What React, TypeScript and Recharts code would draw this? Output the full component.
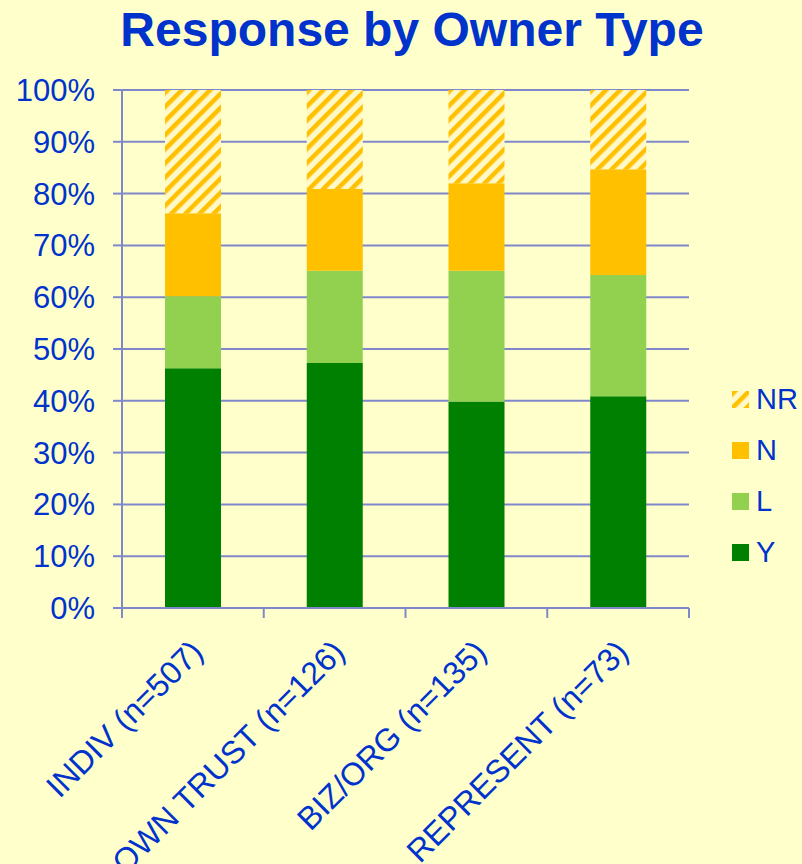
import { BarChart, Bar, XAxis, YAxis, CartesianGrid, Legend } from "recharts";

const categories = ["INDIV (n=507)", "OWN TRUST (n=126)", "BIZ/ORG (n=135)", "REPRESENT (n=73)"];
const yesPct = [46.3, 47.3, 39.8, 40.9];
const likelyPct = [13.9, 17.8, 25.3, 23.4];
const noPct = [16.0, 15.8, 16.9, 20.4];
const noResponsePct = [23.8, 19.1, 18.0, 15.3];
const yTicks = [0, 10, 20, 30, 40, 50, 60, 70, 80, 90, 100];

const data = categories.map((name, i) => ({
  name,
  Y: yesPct[i],
  L: likelyPct[i],
  N: noPct[i],
  NR: noResponsePct[i],
}));

const BG = "#FFFFCC";
const BLUE = "#0033CC";
const AXIS = "#8088CC";
const FONT = "'Liberation Sans', Arial, sans-serif";

const series = [
  { key: "Y", fill: "#008000" },
  { key: "L", fill: "#92D050" },
  { key: "N", fill: "#FFC000" },
  { key: "NR", fill: "url(#nrHatch)" },
];

function HatchDefs({ id }: { id: string }) {
  return (
    <defs>
      <pattern id={id} patternUnits="userSpaceOnUse" width="10" height="10" patternTransform="rotate(45)">
        <rect width="10" height="10" fill="#FFF8C8" />
        <rect width="4.5" height="10" fill="#FFC000" />
      </pattern>
    </defs>
  );
}

function CategoryTick(props: any) {
  const { x, y, payload, index, visibleTicksCount, width } = props;
  const band = width / visibleTicksCount;
  const left = x - band / 2;
  return (
    <g>
      <line x1={left} y1={y} x2={left} y2={y + 10} stroke={AXIS} strokeWidth={2} />
      {index === visibleTicksCount - 1 && (
        <line x1={x + band / 2} y1={y} x2={x + band / 2} y2={y + 10} stroke={AXIS} strokeWidth={2} />
      )}
      <text
        transform={`translate(${x + 12},${y + 46}) rotate(-45)`}
        textAnchor="end"
        fontSize={32}
        fontFamily={FONT}
        fill={BLUE}
      >
        {payload.value}
      </text>
    </g>
  );
}

function LegendBox() {
  const rows = [...series].reverse();
  return (
    <div style={{ fontFamily: FONT, fontSize: 29, color: BLUE }}>
      {rows.map((s) => (
        <div key={s.key} style={{ display: "flex", alignItems: "center", height: 51 }}>
          <svg width={17} height={17} style={{ marginRight: 7 }}>
            {s.key === "NR" && <HatchDefs id="nrHatchLegend" />}
            <rect width={17} height={17} fill={s.key === "NR" ? "url(#nrHatchLegend)" : s.fill} />
          </svg>
          <span>{s.key}</span>
        </div>
      ))}
    </div>
  );
}

export default function App() {
  return (
    <div style={{ position: "absolute", left: 0, top: 0, width: 802, height: 864, background: BG, overflow: "hidden" }}>
      <div
        style={{
          position: "absolute",
          left: 0,
          width: 824,
          top: 3,
          textAlign: "center",
          fontFamily: FONT,
          fontWeight: "bold",
          fontSize: 48,
          lineHeight: "54px",
          color: BLUE,
        }}
      >
        Response by Owner Type
      </div>
      <BarChart width={802} height={864} data={data} margin={{ top: 90, right: 113, left: 0, bottom: 0 }}>
        <HatchDefs id="nrHatch" />
        <CartesianGrid vertical={false} stroke={AXIS} strokeWidth={2} />
        <XAxis
          dataKey="name"
          height={256}
          interval={0}
          tickSize={0}
          tickMargin={0}
          tick={<CategoryTick />}
          axisLine={{ stroke: AXIS, strokeWidth: 2 }}
        />
        <YAxis
          width={122}
          domain={[0, 100]}
          ticks={yTicks}
          interval={0}
          tickFormatter={(v) => `${v}%`}
          tickSize={9}
          tickMargin={18}
          tick={{ fontSize: 31, fill: BLUE, fontFamily: FONT }}
          tickLine={{ stroke: AXIS, strokeWidth: 2 }}
          axisLine={{ stroke: AXIS, strokeWidth: 2 }}
        />
        <Legend
          layout="vertical"
          align="center"
          verticalAlign="middle"
          content={() => <LegendBox />}
          wrapperStyle={{ left: 732, top: 374, width: 70 }}
        />
        {series.map((s) => (
          <Bar key={s.key} dataKey={s.key} stackId="a" fill={s.fill} barSize={56} isAnimationActive={false} />
        ))}
      </BarChart>
    </div>
  );
}
